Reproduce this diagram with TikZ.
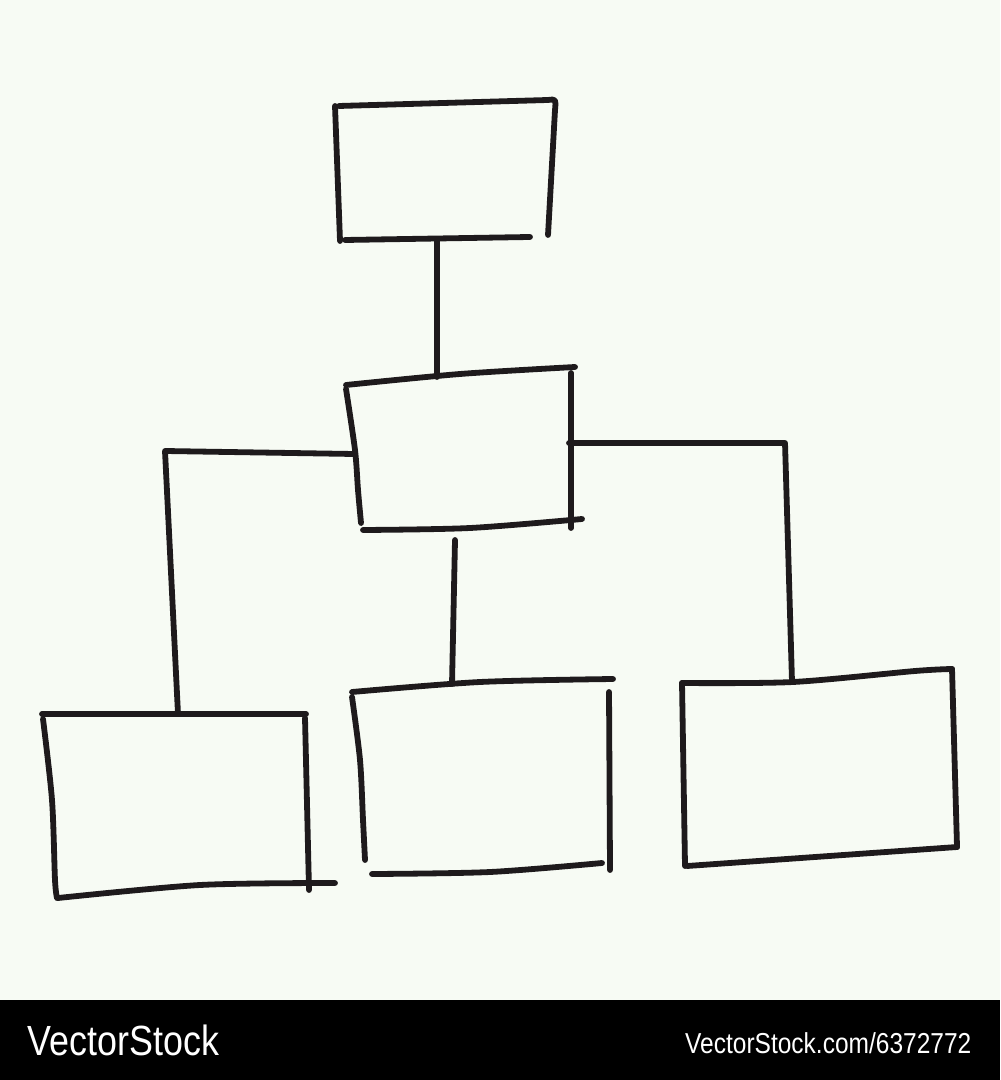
\documentclass[tikz,border=0pt]{standalone}
\usepackage{fontspec}
\setmainfont{Liberation Sans}
\begin{document}
\begin{tikzpicture}[x=0.01cm,y=-0.01cm]
\definecolor{paper}{RGB}{247,251,244}
\definecolor{ink}{RGB}{30,26,28}
\tikzset{pen/.style={draw=ink,line width=1.65pt,line cap=round,line join=round}}
\useasboundingbox (0,0) rectangle (1000,1080);
\fill[paper] (0,0) rectangle (1000,1000);
\fill[black] (0,1000) rectangle (1000,1080);
% named connection points
\coordinate (topB) at (437,240);
\coordinate (midT) at (437,377);
\coordinate (midL) at (354,454);
\coordinate (midR) at (569,443);
\coordinate (midB) at (455,540);
\coordinate (lC) at (165,451);
\coordinate (rC) at (785,443);
\coordinate (blT) at (178,714);
\coordinate (bmT) at (452,684);
\coordinate (brT) at (792,682);
% top box
\draw[pen] (335,106) -- (340,241);
\draw[pen] (339,106) -- (548,100) .. controls (556,99) .. (555,110) -- (548,235);
\draw[pen] (345,240) -- (530,237);
% middle box
\draw[pen] plot[smooth] coordinates {(346,385) (460,374) (575,367)};
\draw[pen] plot[smooth] coordinates {(346,389) (355,450) (358,490) (361,523)};
\draw[pen] (571,373) -- (571,528);
\draw[pen] plot[smooth] coordinates {(363,530) (470,528) (582,519)};
% bottom-left box
\draw[pen] (42,714) -- (306,714);
\draw[pen] plot[smooth] coordinates {(43,719) (52,800) (55,880) (57,898)};
\draw[pen] (305,718) -- (309,890);
\draw[pen] plot[smooth] coordinates {(58,898) (200,885) (335,883)};
% bottom-middle box
\draw[pen] plot[smooth] coordinates {(352,692) (480,682) (613,679)};
\draw[pen] plot[smooth] coordinates {(352,697) (360,760) (363,820) (365,860)};
\draw[pen] (609,692) -- (610,870);
\draw[pen] plot[smooth] coordinates {(372,874) (490,872) (602,863)};
% bottom-right box
\draw[pen] plot[smooth] coordinates {(682,683) (793,682) (915,671) (952,669)};
\draw[pen] (682,683) -- (685,866);
\draw[pen] (952,669) -- (957,847);
\draw[pen] (687,866) -- (957,847);
% connectors
\draw[pen] (topB) -- (midT);
\draw[pen] (midL) -- (lC) -- (blT);
\draw[pen] (midR) -- (rC) -- (brT);
\draw[pen] (midB) -- (bmT);
% watermark
\node[anchor=west,text=white,inner sep=0pt,font=\fontsize{12}{14}\selectfont] (wm1) at (27,1040) {\addfontfeature{FakeStretch=0.85}VectorStock};
\node[anchor=east,text=white,inner sep=0pt,font=\fontsize{8.2}{10}\selectfont] (wm2) at (972,1043) {\addfontfeature{FakeStretch=0.85}VectorStock.com/6372772};
\end{tikzpicture}
\end{document}
